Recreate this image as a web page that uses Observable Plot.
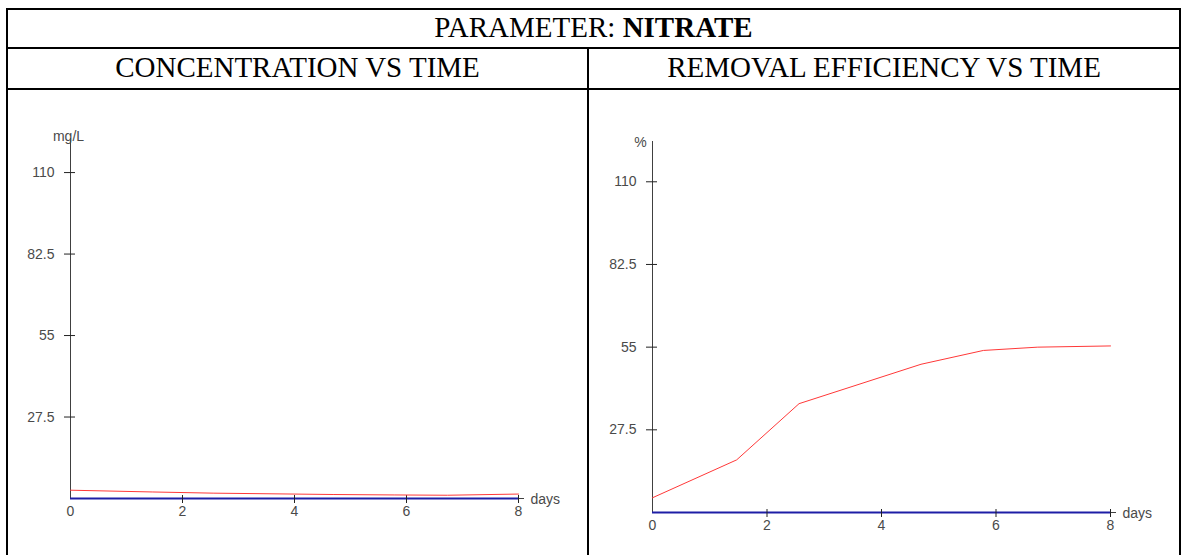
<!DOCTYPE html>
<html>
<head>
<meta charset="utf-8">
<script src="https://cdn.jsdelivr.net/npm/d3@7"></script>
<script src="https://cdn.jsdelivr.net/npm/@observablehq/plot@0.6"></script>
<style>
  body { margin: 0; background: #fff; }
  #page { position: relative; width: 1185px; height: 555px; overflow: hidden; background: #fff;
          font-family: "Liberation Serif", "Times New Roman", serif; color: #000; }
  .hline { position: absolute; height: 2px; background: #000; }
  .vline { position: absolute; width: 2px; background: #000; }
  .cell-text { position: absolute; text-align: center; font-size: 29px; line-height: 32px; white-space: nowrap; }
  .chart { position: absolute; top: 90px; }
</style>
</head>
<body>
<div id="page">
  <div class="hline" style="left:6px; top:8px; width:1175px;"></div>
  <div class="hline" style="left:6px; top:47px; width:1175px;"></div>
  <div class="hline" style="left:6px; top:88px; width:1175px;"></div>
  <div class="vline" style="left:6px; top:8px; height:547px;"></div>
  <div class="vline" style="left:1179px; top:8px; height:547px;"></div>
  <div class="vline" style="left:587px; top:47px; height:508px;"></div>

  <div class="cell-text" style="left:8px; width:1171px; top:11px;">PARAMETER: <b>NITRATE</b></div>
  <div class="cell-text" style="left:8px; width:579px; top:51px;">CONCENTRATION VS TIME</div>
  <div class="cell-text" style="left:589px; width:590px; top:51px;">REMOVAL EFFICIENCY VS TIME</div>

  <div id="left" class="chart" style="left:8px;"></div>
  <div id="right" class="chart" style="left:590px;"></div>
</div>
<script>
// Sampling days and the two measured series
const days = [0, 1.47, 2.56, 4.69, 5.78, 6.73, 8];
const concentration = [2.8, 2.2, 1.8, 1.35, 1.2, 1.1, 1.5];   // mg/L
const efficiency = [4.9, 17.5, 36.2, 49.3, 53.9, 55.0, 55.4];  // %

// Axis ticks
const yTicks = [27.5, 55, 82.5, 110];
const xTickMarks = [2, 4, 6, 8];
const xTickLabels = [0, 2, 4, 6, 8];

const axisFont = "'Liberation Sans', Arial, sans-serif";
const plain = (d) => String(d);

function lineChart({values, yMax, unit, unitDx, unitDy, width, height, margins}) {
  const rows = days.map((d, i) => ({day: d, value: values[i]}));
  return Plot.plot({
    width, height,
    ...margins,
    x: {domain: [0, 8], label: null},
    y: {domain: [0, yMax], label: null},
    style: {fontFamily: axisFont, fontSize: "14px", background: "transparent", overflow: "visible"},
    marks: [
      // vertical axis line and the x axis line running a little past day 8
      Plot.ruleX([0], {stroke: "#404040"}),
      Plot.ruleY([0], {x1: 0, x2: 8, insetRight: -6, stroke: "#404040"}),
      // baseline series along zero
      Plot.ruleY([0], {x1: 0, x2: 8, stroke: "#1e1ea6", strokeWidth: 2}),
      // crossing tick marks
      Plot.axisY(yTicks, {tickSize: 11, dx: 5, tickFormat: () => "", stroke: "#222", label: null}),
      Plot.axisY(yTicks, {tickSize: 0, tickPadding: 16, tickFormat: plain, fill: "#4a4a4a", label: null}),
      Plot.axisX(xTickMarks, {tickSize: 8, dy: -3, tickFormat: () => "", stroke: "#222", label: null}),
      Plot.axisX(xTickLabels, {tickSize: 0, tickPadding: 8, tickFormat: plain, fill: "#4a4a4a", label: null}),
      // measured series
      Plot.line(rows, {x: "day", y: "value", stroke: "#ff3838", strokeWidth: 1}),
      // unit labels
      Plot.text([unit], {frameAnchor: "top-left", dx: unitDx, dy: unitDy, fill: "#4a4a4a", textAnchor: "middle"}),
      Plot.text(["days"], {x: 8, y: 0, dx: 12, dy: 1, textAnchor: "start", fill: "#4a4a4a"})
    ]
  });
}

document.getElementById("left").append(lineChart({
  values: concentration, yMax: 121.5, unit: "mg/L", unitDx: -2, unitDy: -7,
  width: 579, height: 465,
  margins: {marginLeft: 62, marginRight: 69, marginTop: 48, marginBottom: 57}
}));

document.getElementById("right").append(lineChart({
  values: efficiency, yMax: 123.4, unit: "%", unitDx: -12, unitDy: -4,
  width: 588, height: 465,
  margins: {marginLeft: 62, marginRight: 68, marginTop: 51, marginBottom: 43}
}));
</script>
</body>
</html>
